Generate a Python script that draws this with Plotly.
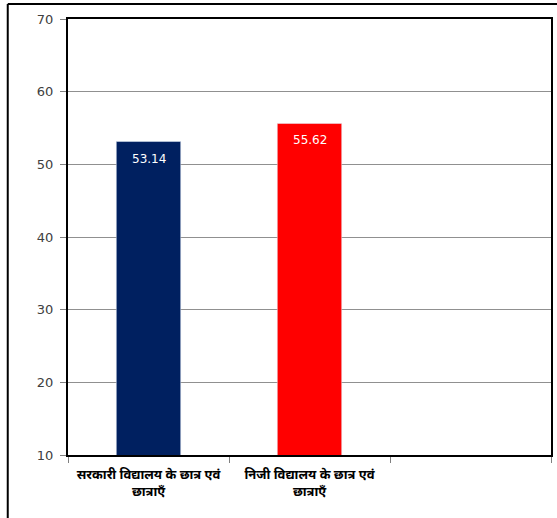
import plotly.graph_objects as go

categories = ["सरकारी विद्यालय के छात्र एवं<br>छात्राएँ", "निजी विद्यालय के छात्र एवं<br>छात्राएँ", " "]
values = [53.14, 55.62, None]
colors = ["#002060", "#FF0000", "#FFFFFF"]
value_labels = ["53.14", "55.62", ""]
y_ticks = [10, 20, 30, 40, 50, 60, 70]

W, H = 557, 518
L, R, T, B = 68, 4, 19, 63
pw, ph = W - L - R, H - T - B

fig = go.Figure(go.Bar(
    x=categories, y=values, marker_color=colors, width=0.4,
    hoverinfo="x+y",
))

for c, v, t in zip(categories, values, value_labels):
    if v is not None:
        fig.add_annotation(x=c, y=v, text=t, showarrow=False, yanchor="top", yshift=-8,
                           font=dict(color="white", size=12, family="DejaVu Sans"))

def px_x(p):
    return (p - L) / pw

def px_y(p):
    return (H - B - p) / ph

fig.update_layout(
    width=W, height=H,
    margin=dict(l=L, r=R, t=T, b=B),
    paper_bgcolor="white", plot_bgcolor="white",
    showlegend=False,
    shapes=[
        dict(type="line", xref="paper", yref="paper", x0=px_x(7.5), x1=px_x(560), y0=px_y(4), y1=px_y(4),
             line=dict(color="black", width=2)),
        dict(type="line", xref="paper", yref="paper", x0=px_x(7.5), x1=px_x(7.5), y0=px_y(4), y1=px_y(520),
             line=dict(color="black", width=2)),
    ],
)
fig.update_xaxes(
    type="category", showline=True, linecolor="black", linewidth=2, mirror=True,
    ticks="outside", tickson="boundaries", ticklen=6, tickcolor="#808080",
    tickfont=dict(size=13, color="black", family="Noto Sans"),
    ticklabelstandoff=6,
    showgrid=False,
    ticktext=[f"<b>{c}</b>" for c in categories], tickvals=categories,
)
fig.update_yaxes(
    range=[10, 70], tickvals=y_ticks, showline=True, linecolor="black", linewidth=2, mirror=True,
    ticks="outside", ticklen=6, tickcolor="#808080",
    ticklabelstandoff=4,
    gridcolor="#909090", gridwidth=1,
    tickfont=dict(size=13, color="#404040", family="DejaVu Sans"),
    zeroline=False,
)
fig.write_html("out.html", config={"displayModeBar": False},
               post_script="document.body.style.margin='0';document.body.style.overflow='hidden';")
